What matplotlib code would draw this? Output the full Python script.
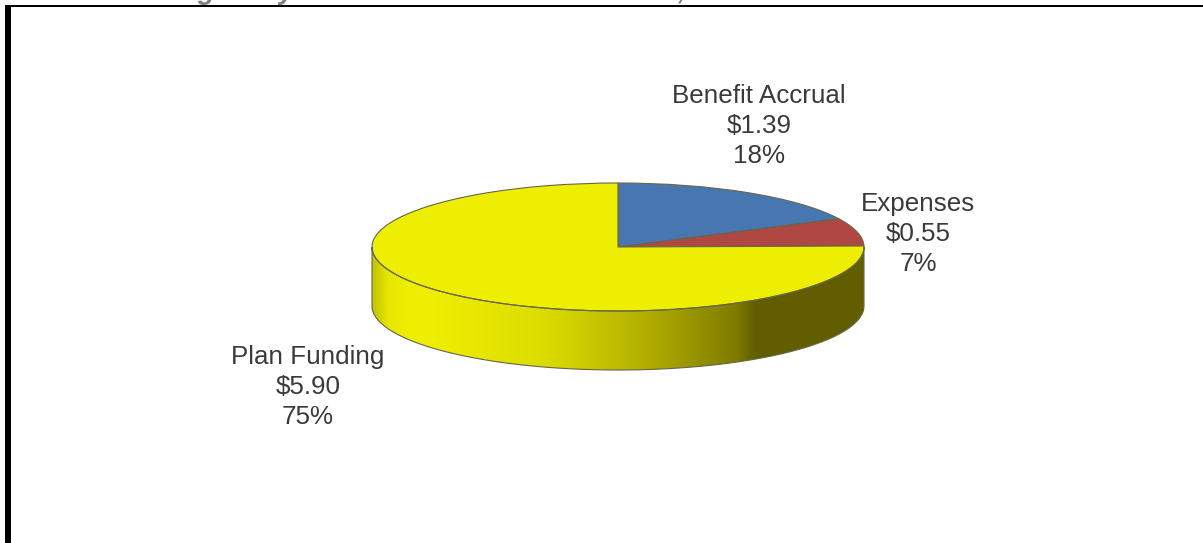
import numpy as np
import matplotlib
matplotlib.use('Agg')
import matplotlib.pyplot as plt
from matplotlib.colors import LinearSegmentedColormap
from matplotlib.patches import Polygon

plt.rcParams['font.family'] = ['Liberation Sans', 'DejaVu Sans']

# data
labels = ['Benefit Accrual', 'Expenses', 'Plan Funding']
dollars = [1.39, 0.55, 5.90]
percents = [18, 7, 75]
colors = ['#4876b0', '#af4743', '#eeee00']
# only the bottoms of these title letters are left in the crop
title_bits = ['g', 'y', ',']

W, H = 1203, 543
cx, cy = 618, 247
rx, ry = 246, 64
depth = 59

fig = plt.figure(figsize=(W / 100, H / 100), dpi=100)
ax = fig.add_axes([0, 0, 1, 1])

# one data unit = the pie radius, squashed in y
ax.pie(dollars, colors=colors, startangle=90, counterclock=False, center=(0, 0), radius=1,
       wedgeprops={'edgecolor': '#66664a', 'linewidth': 0.8})
ax.set_aspect('auto')
ax.axis('off')

# side wall of the disc, gradient clipped to the front half
d = depth / ry
t = np.linspace(np.pi, 2 * np.pi, 200)
side = np.column_stack([np.r_[np.cos(t), np.cos(t[::-1])],
                        np.r_[np.sin(t) - d, np.sin(t[::-1])]])
clip = Polygon(side, closed=True, facecolor='none', edgecolor='#66664a', linewidth=0.8, zorder=1)
ax.add_patch(clip)
grad = LinearSegmentedColormap.from_list('side', [
    (0.0, '#c4c400'), (0.03, '#e6e600'), (0.07, '#eeee00'), (0.13, '#eeee00'),
    (0.35, '#dcdc00'), (0.55, '#b4b000'), (0.74, '#807c00'), (0.78, '#625e00'), (1.0, '#625e00')])
im = ax.imshow(np.linspace(0, 1, 492)[None, :], cmap=grad, vmin=0, vmax=1, aspect='auto',
               extent=(-1, 1, -1 - d, 0), zorder=0.5)
im.set_clip_path(clip)
ax.set_xlim(-cx / rx, (W - cx) / rx)
ax.set_ylim((cy - H) / ry, cy / ry)

# labels, positioned in figure pixels
label_xy = [(759, 126), (918, 234), (308, 387)]
for name, val, pct, (px, py) in zip(labels, dollars, percents, label_xy):
    fig.text(px / W, 1 - py / H, f'{name}\n${val:.2f}\n{pct}%', ha='center', va='center',
             fontsize=18.7, color='#3a3a3a', linespacing=1.33)

# cut-off title above the frame
for bit, px in zip(title_bits, [206, 286, 681]):
    fig.text(px / W, 1 + 1 / H, bit, ha='center', va='baseline', fontsize=20, color='#808080',
             fontweight='bold', fontstyle='italic')

# frame
fig.patches.append(plt.Rectangle((5 / W, 0), 6 / W, 1 - 5 / H, transform=fig.transFigure,
                                 facecolor='black', edgecolor='none'))
fig.patches.append(plt.Rectangle((5 / W, 1 - 7 / H), 1 - 5 / W, 2 / H, transform=fig.transFigure,
                                 facecolor='black', edgecolor='none'))

fig.savefig('out.png', dpi=100)
